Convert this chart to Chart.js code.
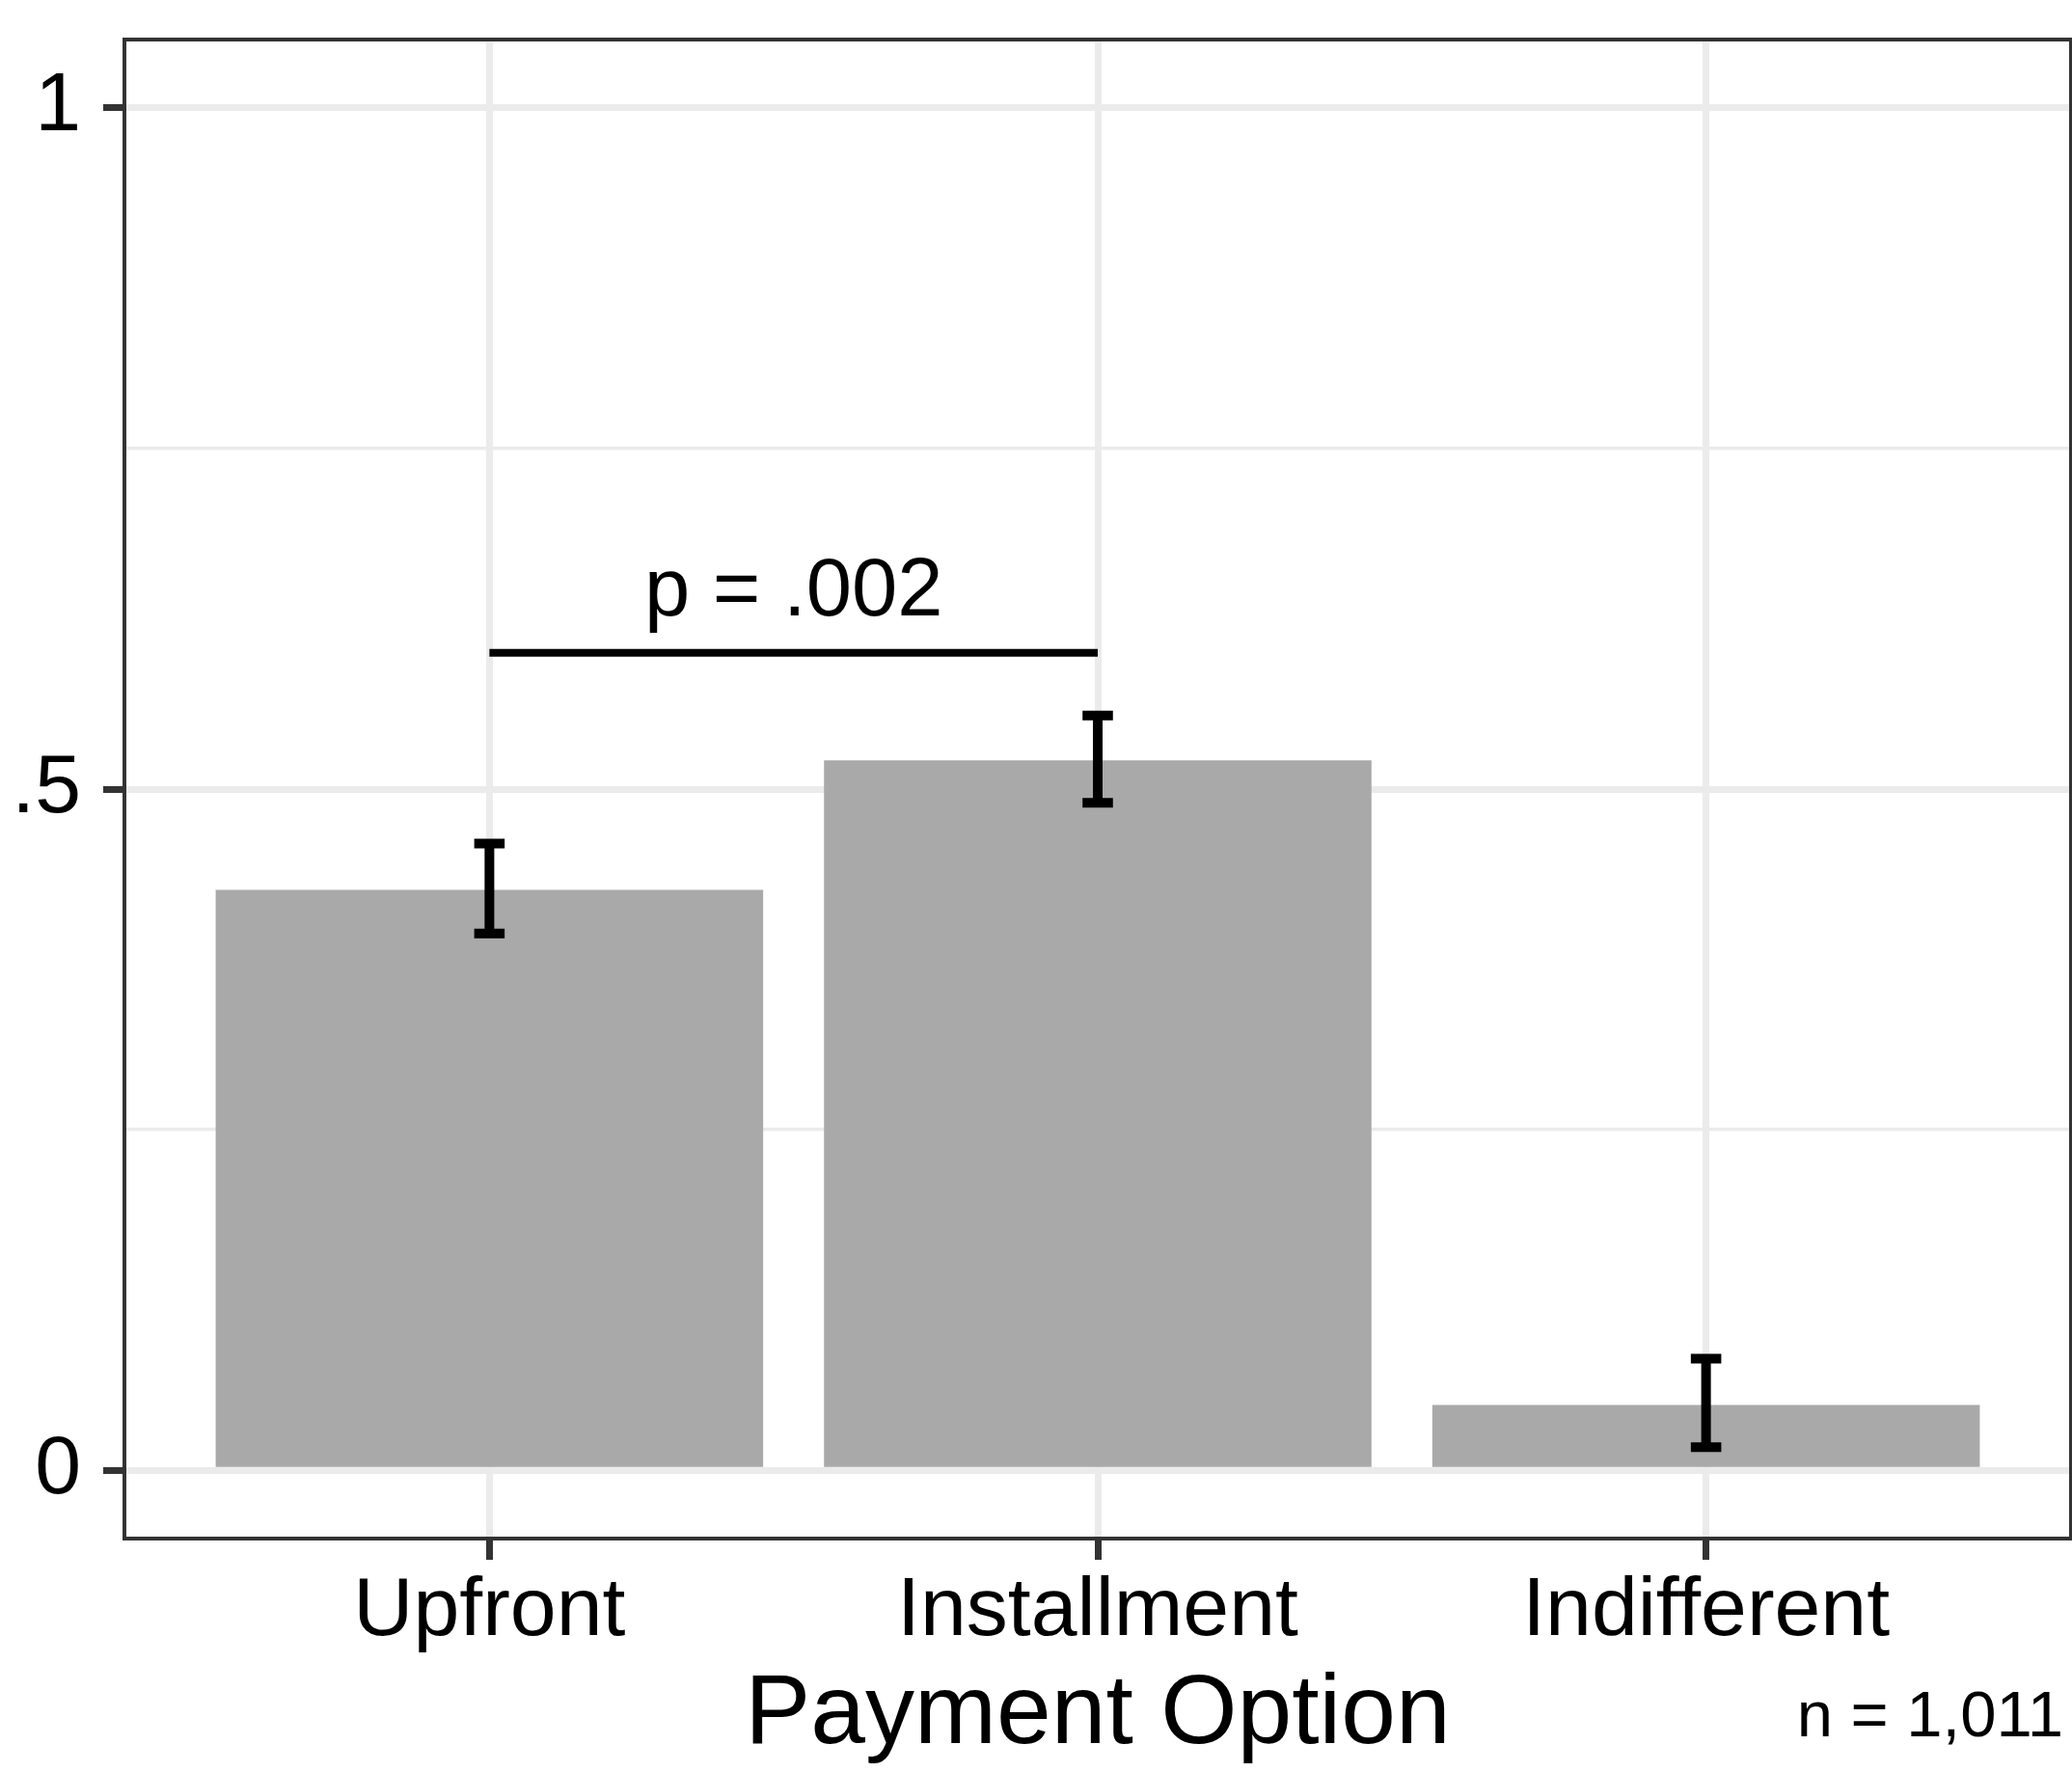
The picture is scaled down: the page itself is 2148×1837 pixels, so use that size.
<!DOCTYPE html>
<html>
<head>
<meta charset="utf-8">
<script src="https://cdn.jsdelivr.net/npm/chart.js@4/dist/chart.umd.min.js"></script>
<style>
  html, body { margin: 0; padding: 0; background: #ffffff; }
  canvas { display: block; }
</style>
</head>
<body>
<canvas id="chart" width="2148" height="1837"></canvas>
<script>
// Share of respondents choosing each payment option, with 95% intervals
const categories = ['Upfront', 'Installment', 'Indifferent'];
const shares = [0.426, 0.521, 0.048];
const ciLower = [0.394, 0.490, 0.017];
const ciUpper = [0.460, 0.554, 0.082];

// Y axis ticks: labelled majors and unlabelled minors
const yTickValues = [0, 0.25, 0.5, 0.75, 1];
const yTickLabels = ['0', '', '.5', '', '1'];

// Pairwise comparison drawn above the bars
const comparePair = [0, 1];
const compareLevel = 0.6;
const compareLabel = 'p = .002';
const sampleNote = 'n = 1,011';

const FONT = '"Liberation Sans", Arial, Helvetica, sans-serif';
const GRID = '#EBEBEB';
const INK = '#333333';

const isMajor = v => {
  const i = yTickValues.findIndex(t => Math.abs(t - v) < 1e-9);
  return i >= 0 && yTickLabels[i] !== '';
};

const overlay = {
  id: 'overlay',
  afterDatasetsDraw(chart) {
    const { ctx, chartArea: a, scales: { x, y } } = chart;
    ctx.save();

    // interval whiskers
    ctx.strokeStyle = '#000000';
    ctx.lineWidth = 10;
    ctx.lineCap = 'butt';
    const capHalf = x.getPixelForValue(1.025) - x.getPixelForValue(1);
    categories.forEach((c, i) => {
      const cx = x.getPixelForValue(i + 1);
      const lo = y.getPixelForValue(ciLower[i]);
      const hi = y.getPixelForValue(ciUpper[i]);
      ctx.beginPath();
      ctx.moveTo(cx, lo); ctx.lineTo(cx, hi);
      ctx.moveTo(cx - capHalf, lo); ctx.lineTo(cx + capHalf, lo);
      ctx.moveTo(cx - capHalf, hi); ctx.lineTo(cx + capHalf, hi);
      ctx.stroke();
    });

    // comparison bracket and its p-value
    const x1 = x.getPixelForValue(comparePair[0] + 1);
    const x2 = x.getPixelForValue(comparePair[1] + 1);
    const by = y.getPixelForValue(compareLevel);
    ctx.lineWidth = 8;
    ctx.beginPath();
    ctx.moveTo(x1, by); ctx.lineTo(x2, by);
    ctx.stroke();
    ctx.fillStyle = '#000000';
    ctx.font = '85px ' + FONT;
    ctx.textAlign = 'center';
    ctx.textBaseline = 'alphabetic';
    ctx.fillText(compareLabel, (x1 + x2) / 2, by - 39);

    // panel frame
    ctx.strokeStyle = INK;
    ctx.lineWidth = 4;
    ctx.strokeRect(a.left, a.top, a.right - a.left, a.bottom - a.top);

    // sample size note
    ctx.font = '67px ' + FONT;
    ctx.textAlign = 'right';
    ctx.fillText(sampleNote, a.right - 8, 1800);

    ctx.restore();
  }
};

new Chart(document.getElementById('chart'), {
  type: 'bar',
  data: {
    datasets: [{
      data: shares.map((v, i) => ({ x: i + 1, y: v })),
      backgroundColor: '#A9A9A9',
      borderWidth: 0,
      categoryPercentage: 0.9,
      barPercentage: 1.0
    }]
  },
  options: {
    responsive: false,
    animation: false,
    devicePixelRatio: 1,
    layout: { padding: { top: 41, right: 1, left: 0, bottom: 0 } },
    plugins: { legend: { display: false }, tooltip: { enabled: false } },
    scales: {
      x: {
        type: 'linear',
        min: 0.4,
        max: 3.6,
        offset: false,
        afterFit: s => {
          s.height = 242;
          s.paddingLeft = 0; s.paddingRight = 0;
        },
        afterBuildTicks: s => { s.ticks = categories.map((c, i) => ({ value: i + 1 })); },
        border: { display: false },
        grid: {
          offset: false,
          color: GRID,
          lineWidth: 7,
          drawTicks: true,
          tickLength: 22,
          tickColor: INK,
          tickWidth: 7
        },
        ticks: {
          padding: 3,
          color: '#000000',
          font: { family: FONT, size: 86 },
          maxRotation: 0,
          autoSkip: false,
          callback: v => categories[Math.round(v) - 1] ?? ''
        },
        title: {
          display: true,
          text: 'Payment Option',
          color: '#000000',
          font: { family: FONT, size: 102, lineHeight: 1 },
          padding: { top: 0, bottom: 7 }
        }
      },
      y: {
        type: 'linear',
        min: -0.05,
        max: 1.05,
        afterFit: s => {
          s.width = 129;
          s.paddingTop = 0; s.paddingBottom = 0;
        },
        afterBuildTicks: s => { s.ticks = yTickValues.map(v => ({ value: v })); },
        border: { display: false },
        grid: {
          color: GRID,
          lineWidth: ctx => (ctx.tick && isMajor(ctx.tick.value)) ? 7 : 3.5,
          drawTicks: true,
          tickLength: 22,
          tickColor: ctx => (ctx.tick && isMajor(ctx.tick.value)) ? INK : 'rgba(0,0,0,0)',
          tickWidth: 7
        },
        ticks: {
          padding: 23,
          color: '#000000',
          font: { family: FONT, size: 86 },
          autoSkip: false,
          callback: v => {
            const i = yTickValues.findIndex(t => Math.abs(t - v) < 1e-9);
            return i >= 0 ? yTickLabels[i] : '';
          }
        }
      }
    }
  },
  plugins: [overlay]
});
</script>
</body>
</html>
